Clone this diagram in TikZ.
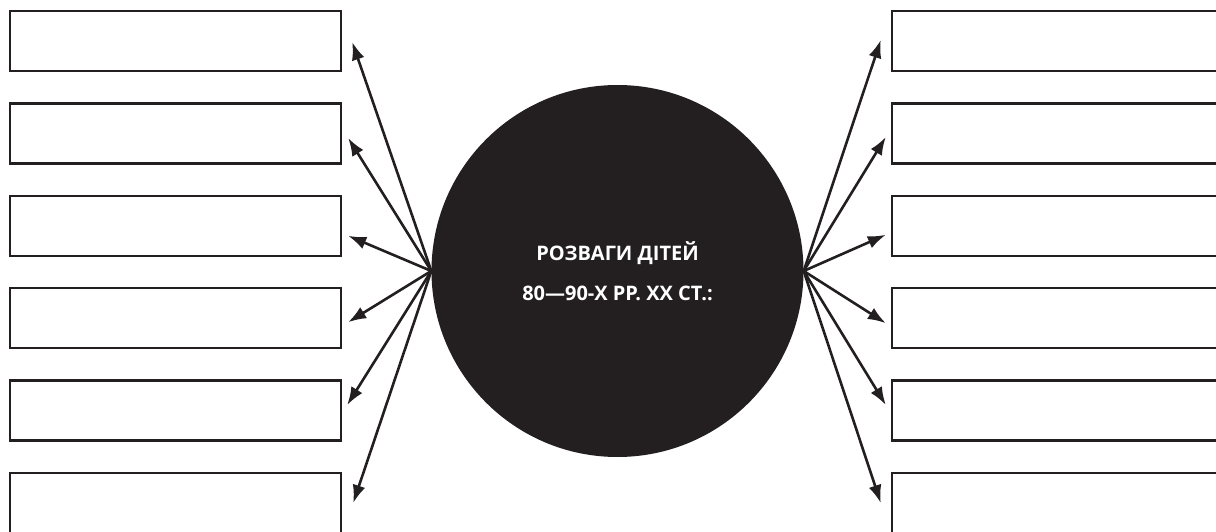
\documentclass[tikz,border=0pt]{standalone}
\usepackage{fontspec}
\setmainfont{Open Sans}
\usetikzlibrary{arrows.meta,positioning}
\definecolor{inkblack}{HTML}{231F20}
\tikzset{
  slotbox/.style={
    draw=inkblack,
    line width=2.4pt,
    minimum width=331pt,
    minimum height=60pt,
    inner sep=0pt
  },
  hubcircle/.style={
    circle,
    fill=inkblack,
    minimum size=372pt,
    inner sep=0pt,
    text=white,
    align=center,
    font=\bfseries\fontsize{20}{40}\selectfont
  },
  spokearrow/.style={
    -{Latex[length=18pt,width=13pt]},
    line width=2.6pt,
    draw=inkblack
  }
}

\begin{document}
\begin{tikzpicture}[x=1pt,y=1pt,node distance=30pt]
    \useasboundingbox (0,0) rectangle (1216,531);

    % left column
    \node[slotbox] (lb1) at (175.5,490) {};
    \node[slotbox, below=of lb1] (lb2) {};
    \node[slotbox, below=of lb2] (lb3) {};
    \node[slotbox, below=of lb3] (lb4) {};
    \node[slotbox, below=of lb4] (lb5) {};
    \node[slotbox, below=of lb5] (lb6) {};

    % right column
    \node[slotbox] (rb1) at (1057.5,490) {};
    \node[slotbox, below=of rb1] (rb2) {};
    \node[slotbox, below=of rb2] (rb3) {};
    \node[slotbox, below=of rb3] (rb4) {};
    \node[slotbox, below=of rb4] (rb5) {};
    \node[slotbox, below=of rb5] (rb6) {};

    \node[hubcircle] (hub) at (617.5,260) {
        РОЗВАГИ ДІТЕЙ\\
        80—90-Х РР. ХХ СТ.:
    };

    % arrow tips next to the boxes
    \coordinate (lt1) at ([xshift=10pt,yshift=-1pt]lb1.east);
    \coordinate (lt2) at ([xshift=6pt,yshift=-4.6pt]lb2.east);
    \coordinate (lt3) at ([xshift=6pt,yshift=-10pt]lb3.east);
    \coordinate (lt4) at ([xshift=6pt,yshift=-4pt]lb4.east);
    \coordinate (lt5) at ([xshift=5pt,yshift=5.6pt]lb5.east);
    \coordinate (lt6) at ([xshift=11pt]lb6.east);

    \coordinate (rt1) at ([xshift=-10pt,yshift=1pt]rb1.west);
    \coordinate (rt2) at ([xshift=-5pt,yshift=-3.6pt]rb2.west);
    \coordinate (rt3) at ([xshift=-5pt,yshift=-9pt]rb3.west);
    \coordinate (rt4) at ([xshift=-5pt,yshift=-5pt]rb4.west);
    \coordinate (rt5) at ([xshift=-5pt,yshift=5.6pt]rb5.west);
    \coordinate (rt6) at ([xshift=-10pt]rb6.west);

    \foreach \i in {1,...,6} {
        \draw[spokearrow] (hub.west) -- (lt\i);
        \draw[spokearrow] (hub.east) -- (rt\i);
    }
\end{tikzpicture}
\end{document}
